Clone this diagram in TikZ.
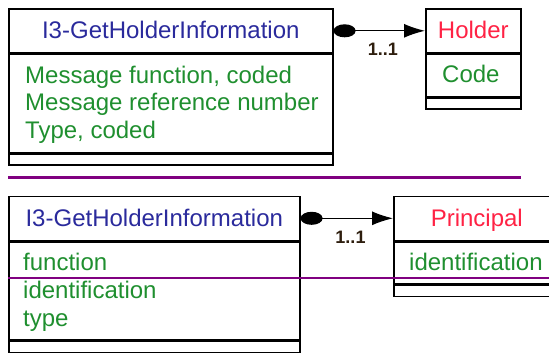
\documentclass[tikz,border=0pt]{standalone}
\usepackage{fontspec}
\setmainfont{Liberation Sans}
\usepackage{xcolor}
\usetikzlibrary{arrows.meta, positioning}
\definecolor{umlnavy}{HTML}{2A2A9C}
\definecolor{umlred}{HTML}{FF2244}
\definecolor{umlgreen}{HTML}{1F8F2F}
\definecolor{umlpurple}{HTML}{800080}
\definecolor{umlbrown}{HTML}{2E1E0E}

\begin{document}
\begin{tikzpicture}[x=1pt, y=-1pt, node distance=0pt,
  box/.style={draw, line width=1.6pt, inner sep=0pt},
  headbox/.style={box, minimum height=44pt, font=\fontsize{24}{28}\selectfont,
    text height=17.5pt, text depth=2pt},
  attr/.style={anchor=base west, inner sep=0pt, text=umlgreen, font=\fontsize{24}{28}\selectfont},
  mult/.style={font=\bfseries\fontsize{18}{20}\selectfont, text=umlbrown, inner sep=1pt},
  assoc/.style={line width=1.2pt, {Circle[length=22pt,width=13pt]}-{Latex[length=21pt,width=14pt]}}]
  \useasboundingbox (0,0) rectangle (549,360);

  % first model: message class and Holder
  \node[headbox, anchor=north west, minimum width=324pt, text=umlnavy] (msgA) at (8,8) {I3-GetHolderInformation};
  \node[box, below=of msgA, minimum width=324pt, minimum height=98pt] (msgAattr) {};
  \node[box, below=of msgAattr, minimum width=324pt, minimum height=11pt] (msgAops) {};
  \foreach \t [count=\i] in {{Message function, coded},{Message reference number},{Type, coded}}
    \node[attr] (msgAt\i) at (25,55.5+27.5*\i) {\t};

  \node[headbox, anchor=north west, minimum width=95pt, text=umlred] (holder) at (425,8) {Holder};
  \node[box, below=of holder, minimum width=95pt, minimum height=42pt] (holderattr) {};
  \node[box, below=of holderattr, minimum width=95pt, minimum height=11pt] (holderops) {};
  \node[attr] (holdert1) at (442,82) {Code};

  \draw[assoc] (msgA.east) -- (holder.west) node[mult, pos=0.54, below=11pt] {1..1};

  % separator
  \coordinate (sepA) at (8,177);
  \coordinate (sepB) at (521,177);
  \draw[umlpurple, line width=3pt] (sepA) -- (sepB);

  % second model: message class and Principal
  \node[headbox, anchor=north west, minimum width=291pt, text=umlnavy] (msgB) at (8,195.5) {I3-GetHolderInformation};
  \node[box, below=of msgB, minimum width=291pt, minimum height=98pt] (msgBattr) {};
  \node[box, below=of msgBattr, minimum width=291pt, minimum height=11pt] (msgBops) {};
  \foreach \t [count=\i] in {function,identification,type}
    \node[attr] (msgBt\i) at (23,242.5+28*\i) {\t};

  \node[headbox, anchor=north west, minimum width=166pt, text=umlred] (principal) at (393,195.5) {Principal};
  \node[box, below=of principal, minimum width=166pt, minimum height=42pt] (principalattr) {};
  \node[box, below=of principalattr, minimum width=166pt, minimum height=11pt] (principalops) {};
  \node[attr] (principalt1) at (409,270.5) {identification};

  \draw[assoc] (msgB.east) -- (principal.west) node[mult, pos=0.54, below=11pt] {1..1};

  % thin rule over the second model
  \coordinate (ruleA) at (8,278);
  \coordinate (ruleB) at (560,278);
  \draw[umlpurple, line width=1.5pt] (ruleA) -- (ruleB);
\end{tikzpicture}
\end{document}
